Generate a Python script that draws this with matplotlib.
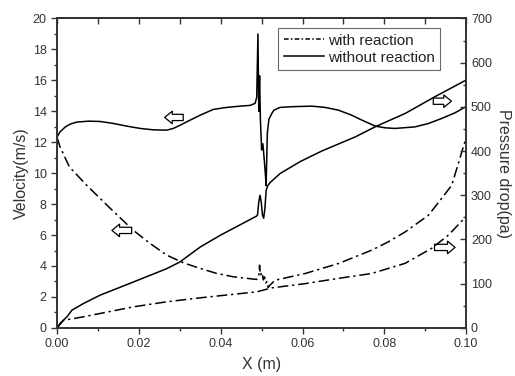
import numpy as np
import matplotlib
matplotlib.use("Agg")
import matplotlib.pyplot as plt
from matplotlib.ticker import MultipleLocator

plt.rcParams['font.family'] = ['Liberation Sans', 'DejaVu Sans']

# velocity, without reaction (solid)
x_vel_wo = [0, 0.0007, 0.002, 0.0032, 0.0048, 0.0077, 0.0105, 0.0138, 0.017, 0.0203,
            0.0235, 0.0268, 0.0284, 0.0301, 0.0317, 0.035, 0.0382, 0.0415, 0.0447,
            0.0472, 0.0484, 0.0488, 0.0491, 0.0493, 0.0495, 0.0497,
            0.0500, 0.0503, 0.0506, 0.0509, 0.0511, 0.0514, 0.0518, 0.0525, 0.053,
            0.0545, 0.058, 0.0623, 0.0655, 0.0688, 0.072, 0.0745, 0.0778, 0.0802,
            0.0826, 0.0875, 0.0908, 0.094, 0.0973, 0.0999]
vel_wo = [12.35, 12.67, 12.99, 13.17, 13.30, 13.36, 13.34, 13.21, 13.04, 12.89,
          12.80, 12.78, 12.89, 13.10, 13.32, 13.75, 14.12, 14.25, 14.33,
          14.38, 14.51, 14.9, 19.0, 14.0, 16.3, 13.5,
          11.5, 11.9, 11.0, 10.0, 9.2, 12.6, 13.5, 13.86, 14.07,
          14.25, 14.3, 14.33, 14.25, 14.07, 13.75, 13.43, 13.04, 12.93,
          12.89, 12.99, 13.21, 13.53, 13.9, 14.29]

# velocity, with reaction (dash-dot)
x_vel_w = [0, 0.0007, 0.003, 0.0072, 0.013, 0.0186, 0.0227, 0.0268, 0.0309, 0.035,
           0.039, 0.0431, 0.0488, 0.0493, 0.0495, 0.0497, 0.0501, 0.0504, 0.0507,
           0.051, 0.0513, 0.0516, 0.052, 0.0533, 0.0606, 0.0688, 0.0769, 0.081,
           0.0851, 0.0908, 0.094, 0.0965, 0.0999]
vel_w = [12.3, 11.7, 10.4, 9.22, 7.72, 6.31, 5.46, 4.70, 4.2, 3.84,
         3.52, 3.30, 3.13, 3.3, 4.05, 3.4, 3.6, 3.1, 3.3,
         2.9, 3.0, 2.6, 2.75, 3.08, 3.51, 4.16, 5.02, 5.56,
         6.2, 7.28, 8.36, 9.22, 12.2]

# pressure drop, without reaction (solid)
x_p_wo = [0, 0.0007, 0.0024, 0.0036, 0.0064, 0.0105, 0.0187, 0.0268, 0.030, 0.035,
          0.040, 0.0488, 0.049, 0.0493, 0.0496, 0.0499, 0.0502, 0.0505, 0.0508,
          0.0511, 0.0514, 0.052, 0.0545, 0.0594, 0.0647, 0.0729, 0.0778, 0.0851,
          0.0924, 0.0999]
p_wo = [0, 10, 25, 40, 55, 74, 104, 134, 149, 183,
        210, 253, 256, 285, 300, 285, 256, 248, 270,
        310, 320, 328, 349, 376, 400, 432, 455, 485,
        523, 560]

# pressure drop, with reaction (dash-dot)
x_p_w = [0, 0.0015, 0.0064, 0.0186, 0.0268, 0.035, 0.0488, 0.0525, 0.0606,
         0.0688, 0.0769, 0.0851, 0.0916, 0.0957, 0.0999]
p_w = [0, 17, 25, 47.5, 59, 68, 81.5, 90.5, 100, 112, 123, 146, 180, 210, 251]

dashdot = (0, (7, 2.5, 1.5, 2.5))
txt = '#333333'

fig = plt.figure(figsize=(5.15, 3.76), dpi=100)
ax = fig.add_axes([0.111, 0.128, 0.794, 0.823])
ax2 = ax.twinx()

l1, = ax.plot(x_vel_w, vel_w, color='black', lw=1.1, linestyle=dashdot)
l2, = ax.plot(x_vel_wo, vel_wo, color='black', lw=1.1)
ax2.plot(x_p_w, p_w, color='black', lw=1.1, linestyle=dashdot)
ax2.plot(x_p_wo, p_wo, color='black', lw=1.1)

ax.set_xlim(0, 0.10)
ax.set_ylim(0, 20)
ax2.set_ylim(0, 700)

ax.xaxis.set_major_locator(MultipleLocator(0.02))
ax.xaxis.set_minor_locator(MultipleLocator(0.01))
ax.yaxis.set_major_locator(MultipleLocator(2))
ax.yaxis.set_minor_locator(MultipleLocator(1))
ax2.yaxis.set_major_locator(MultipleLocator(100))
ax2.yaxis.set_minor_locator(MultipleLocator(50))
ax.xaxis.set_major_formatter(plt.FuncFormatter(lambda v, p: f"{v:.2f}"))

ax.tick_params(axis='both', which='major', direction='out', length=4, width=1, labelsize=9, colors=txt)
ax.tick_params(axis='both', which='minor', direction='out', length=2.5, width=1, colors=txt)
ax2.tick_params(axis='y', which='major', direction='in', length=4, width=1, labelsize=9, colors=txt)
ax2.tick_params(axis='y', which='minor', direction='in', length=2.5, width=1, colors=txt)

top = ax.secondary_xaxis('top')
top.xaxis.set_major_locator(MultipleLocator(0.01))
top.tick_params(direction='in', length=4, width=1, labeltop=False, colors=txt)

for a in (ax, ax2, top):
    for s in a.spines.values():
        s.set_linewidth(1.2)
        s.set_color(txt)

ax.set_xlabel('X (m)', fontsize=11.5, color=txt, labelpad=5)
ax.set_ylabel('Velocity(m/s)', fontsize=11.5, color=txt, labelpad=3)
ax2.set_ylabel('Pressure drop(pa)', fontsize=11.5, color=txt, rotation=270, labelpad=14)

leg = ax.legend([l1, l2], ['with reaction', 'without reaction'], loc='upper right',
                bbox_to_anchor=(0.937, 0.968), fontsize=11, frameon=True, fancybox=False,
                handlelength=2.6, borderpad=0.35, labelspacing=0.2, handletextpad=0.3,
                borderaxespad=0)
leg.get_frame().set_edgecolor('#444444')
leg.get_frame().set_linewidth(0.8)
leg.get_lines()[0].set_linestyle((0, (3, 1.5, 1, 1.5)))
for t in leg.get_texts():
    t.set_color('#222222')

arrow_style = dict(arrowstyle='simple,head_width=0.9,head_length=0.55,tail_width=0.45',
                   fc='white', ec='black', lw=0.9)
ax.annotate('', xy=(0.0256, 13.6), xytext=(0.0315, 13.6), arrowprops=arrow_style)
ax.annotate('', xy=(0.0127, 6.3), xytext=(0.0189, 6.3), arrowprops=arrow_style)
ax.annotate('', xy=(0.0971, 14.65), xytext=(0.0913, 14.65), arrowprops=arrow_style)
ax.annotate('', xy=(0.098, 5.2), xytext=(0.0916, 5.2), arrowprops=arrow_style)

fig.savefig('out.png', dpi=100)
